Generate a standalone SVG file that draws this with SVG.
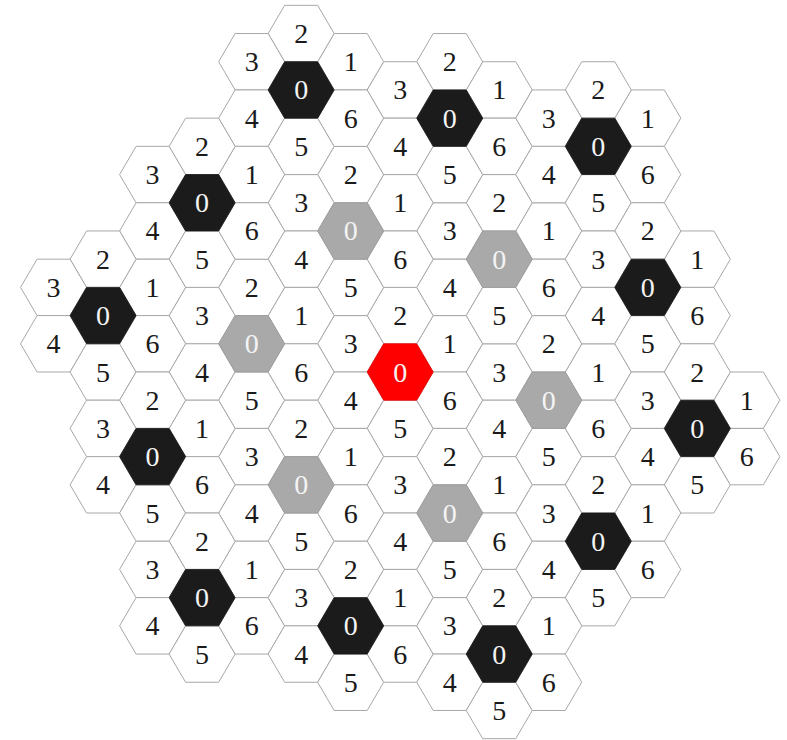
<svg xmlns="http://www.w3.org/2000/svg" xmlns:xlink="http://www.w3.org/1999/xlink" width="787" height="740" viewBox="0 0 787 740">
<defs>
<polygon id="hx" points="-33.01,0 -16.51,-28.205 16.51,-28.205 33.01,0 16.51,28.205 -16.51,28.205"/>
</defs>
<style>
.fw{fill:#ffffff;stroke:#a8a8a8;stroke-width:1}
.fb{fill:#1b1b1b;stroke:#1b1b1b;stroke-width:0.8}
.fg{fill:#a9a9a9;stroke:#9a9a9a;stroke-width:0.8}
.fr{fill:#ff0000;stroke:#ee0000;stroke-width:0.8}
text{font-family:"Liberation Serif","DejaVu Serif",serif;font-size:28px;text-anchor:middle;fill:#1a1a1a}
text.tw{fill:#f4f4f4}
</style>
<rect width="787" height="740" fill="#ffffff"/>
<g id="connectors"/>

<g id="cluster-red" transform="translate(400.2,372)">
<g id="red-1" transform="translate(49.52,-28.205)"><use href="#hx" class="fw"/><text y="9.5">1</text></g>
<g id="red-2" transform="translate(0,-56.41)"><use href="#hx" class="fw"/><text y="9.5">2</text></g>
<g id="red-3" transform="translate(-49.52,-28.205)"><use href="#hx" class="fw"/><text y="9.5">3</text></g>
<g id="red-4" transform="translate(-49.52,28.205)"><use href="#hx" class="fw"/><text y="9.5">4</text></g>
<g id="red-5" transform="translate(0,56.41)"><use href="#hx" class="fw"/><text y="9.5">5</text></g>
<g id="red-6" transform="translate(49.52,28.205)"><use href="#hx" class="fw"/><text y="9.5">6</text></g>
<g id="red-0"><use href="#hx" class="fr"/><text class="tw" y="9.5">0</text></g>
</g>

<g id="cluster-g1" transform="translate(548.76,400.205)">
<g id="g1-1" transform="translate(49.52,-28.205)"><use href="#hx" class="fw"/><text y="9.5">1</text></g>
<g id="g1-2" transform="translate(0,-56.41)"><use href="#hx" class="fw"/><text y="9.5">2</text></g>
<g id="g1-3" transform="translate(-49.52,-28.205)"><use href="#hx" class="fw"/><text y="9.5">3</text></g>
<g id="g1-4" transform="translate(-49.52,28.205)"><use href="#hx" class="fw"/><text y="9.5">4</text></g>
<g id="g1-5" transform="translate(0,56.41)"><use href="#hx" class="fw"/><text y="9.5">5</text></g>
<g id="g1-6" transform="translate(49.52,28.205)"><use href="#hx" class="fw"/><text y="9.5">6</text></g>
<g id="g1-0"><use href="#hx" class="fg"/><text class="tw" y="9.5">0</text></g>
</g>

<g id="cluster-g2" transform="translate(499.24,259.18)">
<g id="g2-1" transform="translate(49.52,-28.205)"><use href="#hx" class="fw"/><text y="9.5">1</text></g>
<g id="g2-2" transform="translate(0,-56.41)"><use href="#hx" class="fw"/><text y="9.5">2</text></g>
<g id="g2-3" transform="translate(-49.52,-28.205)"><use href="#hx" class="fw"/><text y="9.5">3</text></g>
<g id="g2-4" transform="translate(-49.52,28.205)"><use href="#hx" class="fw"/><text y="9.5">4</text></g>
<g id="g2-5" transform="translate(0,56.41)"><use href="#hx" class="fw"/><text y="9.5">5</text></g>
<g id="g2-6" transform="translate(49.52,28.205)"><use href="#hx" class="fw"/><text y="9.5">6</text></g>
<g id="g2-0"><use href="#hx" class="fg"/><text class="tw" y="9.5">0</text></g>
</g>

<g id="cluster-g3" transform="translate(350.68,230.975)">
<g id="g3-1" transform="translate(49.52,-28.205)"><use href="#hx" class="fw"/><text y="9.5">1</text></g>
<g id="g3-2" transform="translate(0,-56.41)"><use href="#hx" class="fw"/><text y="9.5">2</text></g>
<g id="g3-3" transform="translate(-49.52,-28.205)"><use href="#hx" class="fw"/><text y="9.5">3</text></g>
<g id="g3-4" transform="translate(-49.52,28.205)"><use href="#hx" class="fw"/><text y="9.5">4</text></g>
<g id="g3-5" transform="translate(0,56.41)"><use href="#hx" class="fw"/><text y="9.5">5</text></g>
<g id="g3-6" transform="translate(49.52,28.205)"><use href="#hx" class="fw"/><text y="9.5">6</text></g>
<g id="g3-0"><use href="#hx" class="fg"/><text class="tw" y="9.5">0</text></g>
</g>

<g id="cluster-g4" transform="translate(251.64,343.795)">
<g id="g4-1" transform="translate(49.52,-28.205)"><use href="#hx" class="fw"/><text y="9.5">1</text></g>
<g id="g4-2" transform="translate(0,-56.41)"><use href="#hx" class="fw"/><text y="9.5">2</text></g>
<g id="g4-3" transform="translate(-49.52,-28.205)"><use href="#hx" class="fw"/><text y="9.5">3</text></g>
<g id="g4-4" transform="translate(-49.52,28.205)"><use href="#hx" class="fw"/><text y="9.5">4</text></g>
<g id="g4-5" transform="translate(0,56.41)"><use href="#hx" class="fw"/><text y="9.5">5</text></g>
<g id="g4-6" transform="translate(49.52,28.205)"><use href="#hx" class="fw"/><text y="9.5">6</text></g>
<g id="g4-0"><use href="#hx" class="fg"/><text class="tw" y="9.5">0</text></g>
</g>

<g id="cluster-g5" transform="translate(301.16,484.82)">
<g id="g5-1" transform="translate(49.52,-28.205)"><use href="#hx" class="fw"/><text y="9.5">1</text></g>
<g id="g5-2" transform="translate(0,-56.41)"><use href="#hx" class="fw"/><text y="9.5">2</text></g>
<g id="g5-3" transform="translate(-49.52,-28.205)"><use href="#hx" class="fw"/><text y="9.5">3</text></g>
<g id="g5-4" transform="translate(-49.52,28.205)"><use href="#hx" class="fw"/><text y="9.5">4</text></g>
<g id="g5-5" transform="translate(0,56.41)"><use href="#hx" class="fw"/><text y="9.5">5</text></g>
<g id="g5-6" transform="translate(49.52,28.205)"><use href="#hx" class="fw"/><text y="9.5">6</text></g>
<g id="g5-0"><use href="#hx" class="fg"/><text class="tw" y="9.5">0</text></g>
</g>

<g id="cluster-g6" transform="translate(449.72,513.025)">
<g id="g6-1" transform="translate(49.52,-28.205)"><use href="#hx" class="fw"/><text y="9.5">1</text></g>
<g id="g6-2" transform="translate(0,-56.41)"><use href="#hx" class="fw"/><text y="9.5">2</text></g>
<g id="g6-3" transform="translate(-49.52,-28.205)"><use href="#hx" class="fw"/><text y="9.5">3</text></g>
<g id="g6-4" transform="translate(-49.52,28.205)"><use href="#hx" class="fw"/><text y="9.5">4</text></g>
<g id="g6-5" transform="translate(0,56.41)"><use href="#hx" class="fw"/><text y="9.5">5</text></g>
<g id="g6-6" transform="translate(49.52,28.205)"><use href="#hx" class="fw"/><text y="9.5">6</text></g>
<g id="g6-0"><use href="#hx" class="fg"/><text class="tw" y="9.5">0</text></g>
</g>

<g id="cluster-b1" transform="translate(301.16,89.95)">
<g id="b1-1" transform="translate(49.52,-28.205)"><use href="#hx" class="fw"/><text y="9.5">1</text></g>
<g id="b1-2" transform="translate(0,-56.41)"><use href="#hx" class="fw"/><text y="9.5">2</text></g>
<g id="b1-3" transform="translate(-49.52,-28.205)"><use href="#hx" class="fw"/><text y="9.5">3</text></g>
<g id="b1-4" transform="translate(-49.52,28.205)"><use href="#hx" class="fw"/><text y="9.5">4</text></g>
<g id="b1-5" transform="translate(0,56.41)"><use href="#hx" class="fw"/><text y="9.5">5</text></g>
<g id="b1-6" transform="translate(49.52,28.205)"><use href="#hx" class="fw"/><text y="9.5">6</text></g>
<g id="b1-0"><use href="#hx" class="fb"/><text class="tw" y="9.5">0</text></g>
</g>

<g id="cluster-b2" transform="translate(449.72,118.155)">
<g id="b2-1" transform="translate(49.52,-28.205)"><use href="#hx" class="fw"/><text y="9.5">1</text></g>
<g id="b2-2" transform="translate(0,-56.41)"><use href="#hx" class="fw"/><text y="9.5">2</text></g>
<g id="b2-3" transform="translate(-49.52,-28.205)"><use href="#hx" class="fw"/><text y="9.5">3</text></g>
<g id="b2-4" transform="translate(-49.52,28.205)"><use href="#hx" class="fw"/><text y="9.5">4</text></g>
<g id="b2-5" transform="translate(0,56.41)"><use href="#hx" class="fw"/><text y="9.5">5</text></g>
<g id="b2-6" transform="translate(49.52,28.205)"><use href="#hx" class="fw"/><text y="9.5">6</text></g>
<g id="b2-0"><use href="#hx" class="fb"/><text class="tw" y="9.5">0</text></g>
</g>

<g id="cluster-b3" transform="translate(598.28,146.36)">
<g id="b3-1" transform="translate(49.52,-28.205)"><use href="#hx" class="fw"/><text y="9.5">1</text></g>
<g id="b3-2" transform="translate(0,-56.41)"><use href="#hx" class="fw"/><text y="9.5">2</text></g>
<g id="b3-3" transform="translate(-49.52,-28.205)"><use href="#hx" class="fw"/><text y="9.5">3</text></g>
<g id="b3-4" transform="translate(-49.52,28.205)"><use href="#hx" class="fw"/><text y="9.5">4</text></g>
<g id="b3-5" transform="translate(0,56.41)"><use href="#hx" class="fw"/><text y="9.5">5</text></g>
<g id="b3-6" transform="translate(49.52,28.205)"><use href="#hx" class="fw"/><text y="9.5">6</text></g>
<g id="b3-0"><use href="#hx" class="fb"/><text class="tw" y="9.5">0</text></g>
</g>

<g id="cluster-b4" transform="translate(202.12,202.77)">
<g id="b4-1" transform="translate(49.52,-28.205)"><use href="#hx" class="fw"/><text y="9.5">1</text></g>
<g id="b4-2" transform="translate(0,-56.41)"><use href="#hx" class="fw"/><text y="9.5">2</text></g>
<g id="b4-3" transform="translate(-49.52,-28.205)"><use href="#hx" class="fw"/><text y="9.5">3</text></g>
<g id="b4-4" transform="translate(-49.52,28.205)"><use href="#hx" class="fw"/><text y="9.5">4</text></g>
<g id="b4-5" transform="translate(0,56.41)"><use href="#hx" class="fw"/><text y="9.5">5</text></g>
<g id="b4-6" transform="translate(49.52,28.205)"><use href="#hx" class="fw"/><text y="9.5">6</text></g>
<g id="b4-0"><use href="#hx" class="fb"/><text class="tw" y="9.5">0</text></g>
</g>

<g id="cluster-b5" transform="translate(647.8,287.385)">
<g id="b5-1" transform="translate(49.52,-28.205)"><use href="#hx" class="fw"/><text y="9.5">1</text></g>
<g id="b5-2" transform="translate(0,-56.41)"><use href="#hx" class="fw"/><text y="9.5">2</text></g>
<g id="b5-3" transform="translate(-49.52,-28.205)"><use href="#hx" class="fw"/><text y="9.5">3</text></g>
<g id="b5-4" transform="translate(-49.52,28.205)"><use href="#hx" class="fw"/><text y="9.5">4</text></g>
<g id="b5-5" transform="translate(0,56.41)"><use href="#hx" class="fw"/><text y="9.5">5</text></g>
<g id="b5-6" transform="translate(49.52,28.205)"><use href="#hx" class="fw"/><text y="9.5">6</text></g>
<g id="b5-0"><use href="#hx" class="fb"/><text class="tw" y="9.5">0</text></g>
</g>

<g id="cluster-b6" transform="translate(103.08,315.59)">
<g id="b6-1" transform="translate(49.52,-28.205)"><use href="#hx" class="fw"/><text y="9.5">1</text></g>
<g id="b6-2" transform="translate(0,-56.41)"><use href="#hx" class="fw"/><text y="9.5">2</text></g>
<g id="b6-3" transform="translate(-49.52,-28.205)"><use href="#hx" class="fw"/><text y="9.5">3</text></g>
<g id="b6-4" transform="translate(-49.52,28.205)"><use href="#hx" class="fw"/><text y="9.5">4</text></g>
<g id="b6-5" transform="translate(0,56.41)"><use href="#hx" class="fw"/><text y="9.5">5</text></g>
<g id="b6-6" transform="translate(49.52,28.205)"><use href="#hx" class="fw"/><text y="9.5">6</text></g>
<g id="b6-0"><use href="#hx" class="fb"/><text class="tw" y="9.5">0</text></g>
</g>

<g id="cluster-b7" transform="translate(697.32,428.41)">
<g id="b7-1" transform="translate(49.52,-28.205)"><use href="#hx" class="fw"/><text y="9.5">1</text></g>
<g id="b7-2" transform="translate(0,-56.41)"><use href="#hx" class="fw"/><text y="9.5">2</text></g>
<g id="b7-3" transform="translate(-49.52,-28.205)"><use href="#hx" class="fw"/><text y="9.5">3</text></g>
<g id="b7-4" transform="translate(-49.52,28.205)"><use href="#hx" class="fw"/><text y="9.5">4</text></g>
<g id="b7-5" transform="translate(0,56.41)"><use href="#hx" class="fw"/><text y="9.5">5</text></g>
<g id="b7-6" transform="translate(49.52,28.205)"><use href="#hx" class="fw"/><text y="9.5">6</text></g>
<g id="b7-0"><use href="#hx" class="fb"/><text class="tw" y="9.5">0</text></g>
</g>

<g id="cluster-b8" transform="translate(152.6,456.615)">
<g id="b8-1" transform="translate(49.52,-28.205)"><use href="#hx" class="fw"/><text y="9.5">1</text></g>
<g id="b8-2" transform="translate(0,-56.41)"><use href="#hx" class="fw"/><text y="9.5">2</text></g>
<g id="b8-3" transform="translate(-49.52,-28.205)"><use href="#hx" class="fw"/><text y="9.5">3</text></g>
<g id="b8-4" transform="translate(-49.52,28.205)"><use href="#hx" class="fw"/><text y="9.5">4</text></g>
<g id="b8-5" transform="translate(0,56.41)"><use href="#hx" class="fw"/><text y="9.5">5</text></g>
<g id="b8-6" transform="translate(49.52,28.205)"><use href="#hx" class="fw"/><text y="9.5">6</text></g>
<g id="b8-0"><use href="#hx" class="fb"/><text class="tw" y="9.5">0</text></g>
</g>

<g id="cluster-b9" transform="translate(598.28,541.23)">
<g id="b9-1" transform="translate(49.52,-28.205)"><use href="#hx" class="fw"/><text y="9.5">1</text></g>
<g id="b9-2" transform="translate(0,-56.41)"><use href="#hx" class="fw"/><text y="9.5">2</text></g>
<g id="b9-3" transform="translate(-49.52,-28.205)"><use href="#hx" class="fw"/><text y="9.5">3</text></g>
<g id="b9-4" transform="translate(-49.52,28.205)"><use href="#hx" class="fw"/><text y="9.5">4</text></g>
<g id="b9-5" transform="translate(0,56.41)"><use href="#hx" class="fw"/><text y="9.5">5</text></g>
<g id="b9-6" transform="translate(49.52,28.205)"><use href="#hx" class="fw"/><text y="9.5">6</text></g>
<g id="b9-0"><use href="#hx" class="fb"/><text class="tw" y="9.5">0</text></g>
</g>

<g id="cluster-b10" transform="translate(202.12,597.64)">
<g id="b10-1" transform="translate(49.52,-28.205)"><use href="#hx" class="fw"/><text y="9.5">1</text></g>
<g id="b10-2" transform="translate(0,-56.41)"><use href="#hx" class="fw"/><text y="9.5">2</text></g>
<g id="b10-3" transform="translate(-49.52,-28.205)"><use href="#hx" class="fw"/><text y="9.5">3</text></g>
<g id="b10-4" transform="translate(-49.52,28.205)"><use href="#hx" class="fw"/><text y="9.5">4</text></g>
<g id="b10-5" transform="translate(0,56.41)"><use href="#hx" class="fw"/><text y="9.5">5</text></g>
<g id="b10-6" transform="translate(49.52,28.205)"><use href="#hx" class="fw"/><text y="9.5">6</text></g>
<g id="b10-0"><use href="#hx" class="fb"/><text class="tw" y="9.5">0</text></g>
</g>

<g id="cluster-b11" transform="translate(350.68,625.845)">
<g id="b11-1" transform="translate(49.52,-28.205)"><use href="#hx" class="fw"/><text y="9.5">1</text></g>
<g id="b11-2" transform="translate(0,-56.41)"><use href="#hx" class="fw"/><text y="9.5">2</text></g>
<g id="b11-3" transform="translate(-49.52,-28.205)"><use href="#hx" class="fw"/><text y="9.5">3</text></g>
<g id="b11-4" transform="translate(-49.52,28.205)"><use href="#hx" class="fw"/><text y="9.5">4</text></g>
<g id="b11-5" transform="translate(0,56.41)"><use href="#hx" class="fw"/><text y="9.5">5</text></g>
<g id="b11-6" transform="translate(49.52,28.205)"><use href="#hx" class="fw"/><text y="9.5">6</text></g>
<g id="b11-0"><use href="#hx" class="fb"/><text class="tw" y="9.5">0</text></g>
</g>

<g id="cluster-b12" transform="translate(499.24,654.05)">
<g id="b12-1" transform="translate(49.52,-28.205)"><use href="#hx" class="fw"/><text y="9.5">1</text></g>
<g id="b12-2" transform="translate(0,-56.41)"><use href="#hx" class="fw"/><text y="9.5">2</text></g>
<g id="b12-3" transform="translate(-49.52,-28.205)"><use href="#hx" class="fw"/><text y="9.5">3</text></g>
<g id="b12-4" transform="translate(-49.52,28.205)"><use href="#hx" class="fw"/><text y="9.5">4</text></g>
<g id="b12-5" transform="translate(0,56.41)"><use href="#hx" class="fw"/><text y="9.5">5</text></g>
<g id="b12-6" transform="translate(49.52,28.205)"><use href="#hx" class="fw"/><text y="9.5">6</text></g>
<g id="b12-0"><use href="#hx" class="fb"/><text class="tw" y="9.5">0</text></g>
</g>
</svg>
